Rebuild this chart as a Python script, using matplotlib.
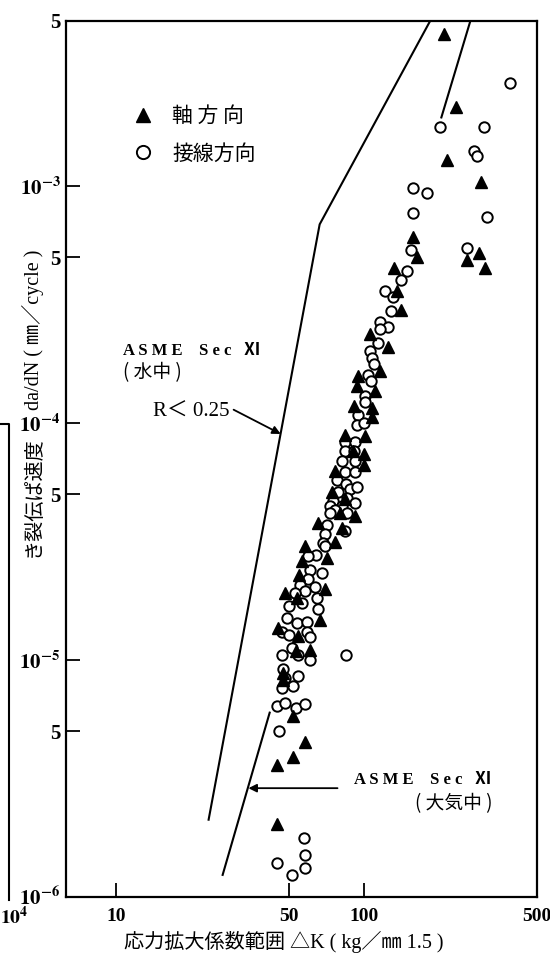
import matplotlib
matplotlib.use('Agg')
import matplotlib.pyplot as plt
from matplotlib.lines import Line2D
from matplotlib.ticker import FixedLocator, FixedFormatter, NullLocator

plt.rcParams['font.family'] = ['Noto Sans CJK JP', 'DejaVu Sans']
plt.rcParams['mathtext.fontset'] = 'stix'

#---------------- データ (ΔK [kg/mm^1.5], da/dN [mm/cycle]) ----------------
# 軸方向 (▲)
axial_dk = [212, 237, 218, 297, 159, 164, 291, 262, 308,
            133, 137, 141, 106, 125, 117, 94.6, 93.7, 111, 91.2, 108, 108,
            83.8, 101, 90.3, 100, 100, 76.4, 74.3, 83.8, 80.0, 92.0, 65.3, 82.2,
            76.4, 58.3, 70.9, 56.2, 54.7, 69.6, 48.0, 53.7, 66.5, 45.0, 54.2, 60.6,
            53.2, 47.1, 47.1, 51.7, 58.3, 51.7, 44.6, 44.6]
axial_rate = [4.4e-3, 2.16e-3, 1.29e-3, 1.04e-3, 6.1e-4, 5.0e-4, 5.2e-4, 4.9e-4, 4.5e-4,
              4.5e-4, 3.6e-4, 3.0e-4, 2.38e-4, 2.1e-4, 1.66e-4, 1.58e-4, 1.43e-4, 1.37e-4,
              1.18e-4, 1.16e-4, 1.06e-4,
              8.95e-5, 8.8e-5, 7.6e-5, 7.4e-5, 6.65e-5, 6.3e-5, 5.14e-5, 4.77e-5, 4.19e-5,
              4.07e-5, 3.78e-5, 3.61e-5, 3.15e-5, 3.03e-5, 2.69e-5, 2.62e-5, 2.28e-5, 2.0e-5,
              1.91e-5, 1.82e-5, 1.48e-5, 1.37e-5, 1.26e-5, 1.10e-5, 1.09e-5, 8.8e-6, 8.2e-6,
              5.8e-6, 4.5e-6, 3.9e-6, 3.6e-6, 2.04e-6]

# 接線方向 (○)
tang_dk = [388, 204, 305, 278, 286, 158, 181, 158, 316, 262, 156,
           150, 142, 122, 131, 129, 117, 125, 117, 114, 106, 108, 110, 104, 107, 101, 101,
           94.6, 93.7, 100,
           84.5, 92.0, 83.8, 91.2, 82.2, 92.0, 83.8, 92.0, 77.8, 85.3, 87.9, 93.7, 78.5,
           75.0, 86.1, 92.0, 72.9, 82.2, 76.4, 86.1, 72.9, 70.9, 84.5, 69.6, 68.4, 69.6,
           64.0, 59.5, 67.7, 60.6, 59.5, 55.2, 63.4, 57.8, 52.7, 64.6, 49.8, 56.2, 65.3,
           48.9, 53.7, 58.9, 46.7, 58.9, 49.8, 60.6, 51.2, 46.7, 54.2, 60.6, 47.1, 54.2,
           48.0, 51.7, 46.7,
           44.6, 48.0, 53.2, 58.3, 45.4, 85.3,
           57.3, 58.3, 58.3, 44.6, 51.2]
tang_rate = [2.72e-3, 1.77e-3, 1.77e-3, 1.41e-3, 1.34e-3, 9.8e-4, 9.4e-4, 7.7e-4, 7.4e-4,
             5.5e-4, 5.4e-4,
             4.4e-4, 4.0e-4, 3.6e-4, 3.4e-4, 2.97e-4, 2.68e-4, 2.55e-4, 2.5e-4, 2.17e-4,
             2.02e-4, 1.88e-4, 1.77e-4, 1.6e-4, 1.5e-4, 1.3e-4, 1.23e-4, 1.08e-4, 9.8e-5, 1.0e-4,
             8.3e-5, 8.3e-5, 7.65e-5, 7.6e-5, 6.9e-5, 6.9e-5, 6.2e-5, 6.2e-5, 5.74e-5, 5.53e-5,
             5.28e-5, 5.38e-5, 5.14e-5, 4.69e-5, 4.82e-5, 4.6e-5, 4.48e-5, 4.48e-5, 4.28e-5,
             4.19e-5, 4.19e-5, 3.72e-5, 3.52e-5, 3.39e-5, 3.12e-5, 3.03e-5, 2.77e-5, 2.74e-5,
             2.34e-5, 2.41e-5, 2.19e-5, 2.07e-5, 2.04e-5, 1.95e-5, 1.91e-5, 1.82e-5, 1.69e-5,
             1.74e-5, 1.65e-5, 1.5e-5, 1.44e-5, 1.45e-5, 1.32e-5, 1.31e-5, 1.28e-5, 1.25e-5,
             1.12e-5, 1.05e-5, 1.05e-5, 1.0e-5, 9.2e-6, 8.6e-6, 8.4e-6, 7.8e-6, 7.6e-6,
             6.4e-6, 6.6e-6, 6.3e-6, 6.5e-6, 5.0e-6, 1.05e-5,
             1.77e-6, 1.51e-6, 1.33e-6, 1.39e-6, 1.24e-6]

# ASME Sec XI 曲線 (見えている部分)
water_dk = [23.7, 66.5, 186]
water_rate = [2.12e-6, 6.9e-4, 5.0e-3]
air_low_dk = [27.0, 41.8]
air_low_rate = [1.24e-6, 6.0e-6]
air_high_dk = [206, 270]
air_high_rate = [1.95e-3, 5.0e-3]

xticks = [10, 50, 100, 500]
xtick_labels = ['10', '50', '100', '500']
yticks = [1e-6, 5e-6, 1e-5, 5e-5, 1e-4, 5e-4, 1e-3, 5e-3]
ytick_labels = [r'$\mathbf{10^{-6}}$', '5', r'$\mathbf{10^{-5}}$', '5',
                r'$\mathbf{10^{-4}}$', '5', r'$\mathbf{10^{-3}}$', '5']
#--------------------------------------------------------------------------

serif = ['Liberation Serif', 'Noto Sans CJK JP', 'DejaVu Sans']

fig = plt.figure(figsize=(5.5, 9.6), dpi=100)
ax = fig.add_axes([0.12, 0.0656, 0.856, 0.913])
ax.set_xscale('log')
ax.set_yscale('log')
ax.set_xlim(6.3, 500)
ax.set_ylim(1e-6, 5e-3)

ax.plot(water_dk, water_rate, color='k', lw=1.5, zorder=2)
ax.plot(air_low_dk, air_low_rate, color='k', lw=1.5, zorder=2)
ax.plot(air_high_dk, air_high_rate, color='k', lw=1.5, zorder=2)

ax.plot(tang_dk, tang_rate, ls='', marker='o', ms=7.5, mfc='white', mec='k', mew=1.4, zorder=3)
ax.plot(axial_dk, axial_rate, ls='', marker='^', ms=8, color='k', zorder=4)

# 目盛
ax.xaxis.set_major_locator(FixedLocator(xticks))
ax.xaxis.set_major_formatter(FixedFormatter(xtick_labels))
ax.yaxis.set_major_locator(FixedLocator(yticks))
ax.yaxis.set_major_formatter(FixedFormatter(ytick_labels))
ax.xaxis.set_minor_locator(NullLocator())
ax.yaxis.set_minor_locator(NullLocator())
ax.tick_params(direction='in', length=10, width=1.3, labelsize=14)
ax.tick_params(axis='y', labelsize=15, pad=4)
ax.tick_params(axis='x', pad=8)
for lbl in ax.get_xticklabels() + ax.get_yticklabels():
    lbl.set_family(serif)
    lbl.set_fontweight('bold')
for s in ax.spines.values():
    s.set_linewidth(1.6)

# 凡例
handles = [Line2D([], [], ls='', marker='^', ms=9.5, color='k'),
           Line2D([], [], ls='', marker='o', ms=9.5, mfc='white', mec='k', mew=1.4)]
ax.legend(handles, ['軸 方 向', '接線方向'], loc='upper left', bbox_to_anchor=(0.08, 0.925),
          frameon=False, fontsize=15, handletextpad=0.4, labelspacing=0.75)

# 注記
ax.text(0.122, 0.623, 'A S M E    S e c   Ⅺ', transform=ax.transAxes, family=serif,
        fontsize=12, fontweight='bold', va='center')
ax.text(0.122, 0.598, '( 水中 )', transform=ax.transAxes, fontsize=13.5, va='center')
ax.text(0.348, 0.553, 'R＜ 0.25', transform=ax.transAxes, family=serif, fontsize=15,
        ha='right', va='center')
ax.annotate('', xy=(46.3, 9.0e-5), xytext=(0.356, 0.556), textcoords='axes fraction',
            arrowprops=dict(arrowstyle='-|>', color='k', lw=1.3, shrinkA=0, shrinkB=0,
                            mutation_scale=12))

ax.text(0.905, 0.133, 'A S M E    S e c   Ⅺ', transform=ax.transAxes, family=serif,
        fontsize=12, fontweight='bold', ha='right', va='center')
ax.text(0.905, 0.106, '( 大気中 )', transform=ax.transAxes, fontsize=13.5, ha='right',
        va='center')
ax.annotate('', xy=(34.3, 2.88e-6), xytext=(78.5, 2.88e-6),
            arrowprops=dict(arrowstyle='-|>', color='k', lw=1.3, shrinkA=0, shrinkB=0,
                            mutation_scale=12))

# 軸ラベル (縦軸ラベルは 10^-4 の目盛ラベルをはさんで二つに分かれている)
fig.text(0.06, 1 - 410 / 960, 'da/dN ( ㎜／cycle )', rotation=90, family=serif,
         fontsize=14.5, ha='center', va='bottom')
fig.text(0.06, 1 - 436 / 960, 'き裂伝ぱ速度', rotation=90, fontsize=14.5,
         ha='center', va='top')
fig.text(0.515, 0.007, '応力拡大係数範囲 △K ( kg／㎜ 1.5 )', family=serif,
         fontsize=14.5, ha='center', va='bottom')

# 左端の枠線の切れ端
fig.add_artist(Line2D([0.0, 0.016, 0.016], [1 - 424 / 960, 1 - 424 / 960, 1 - 900 / 960],
                      transform=fig.transFigure, color='k', lw=1.5))
fig.text(0.0, 1 - 918 / 960, r'$\mathbf{10^4}$', fontsize=14, ha='left', va='center')

fig.savefig('out.png', dpi=100)
